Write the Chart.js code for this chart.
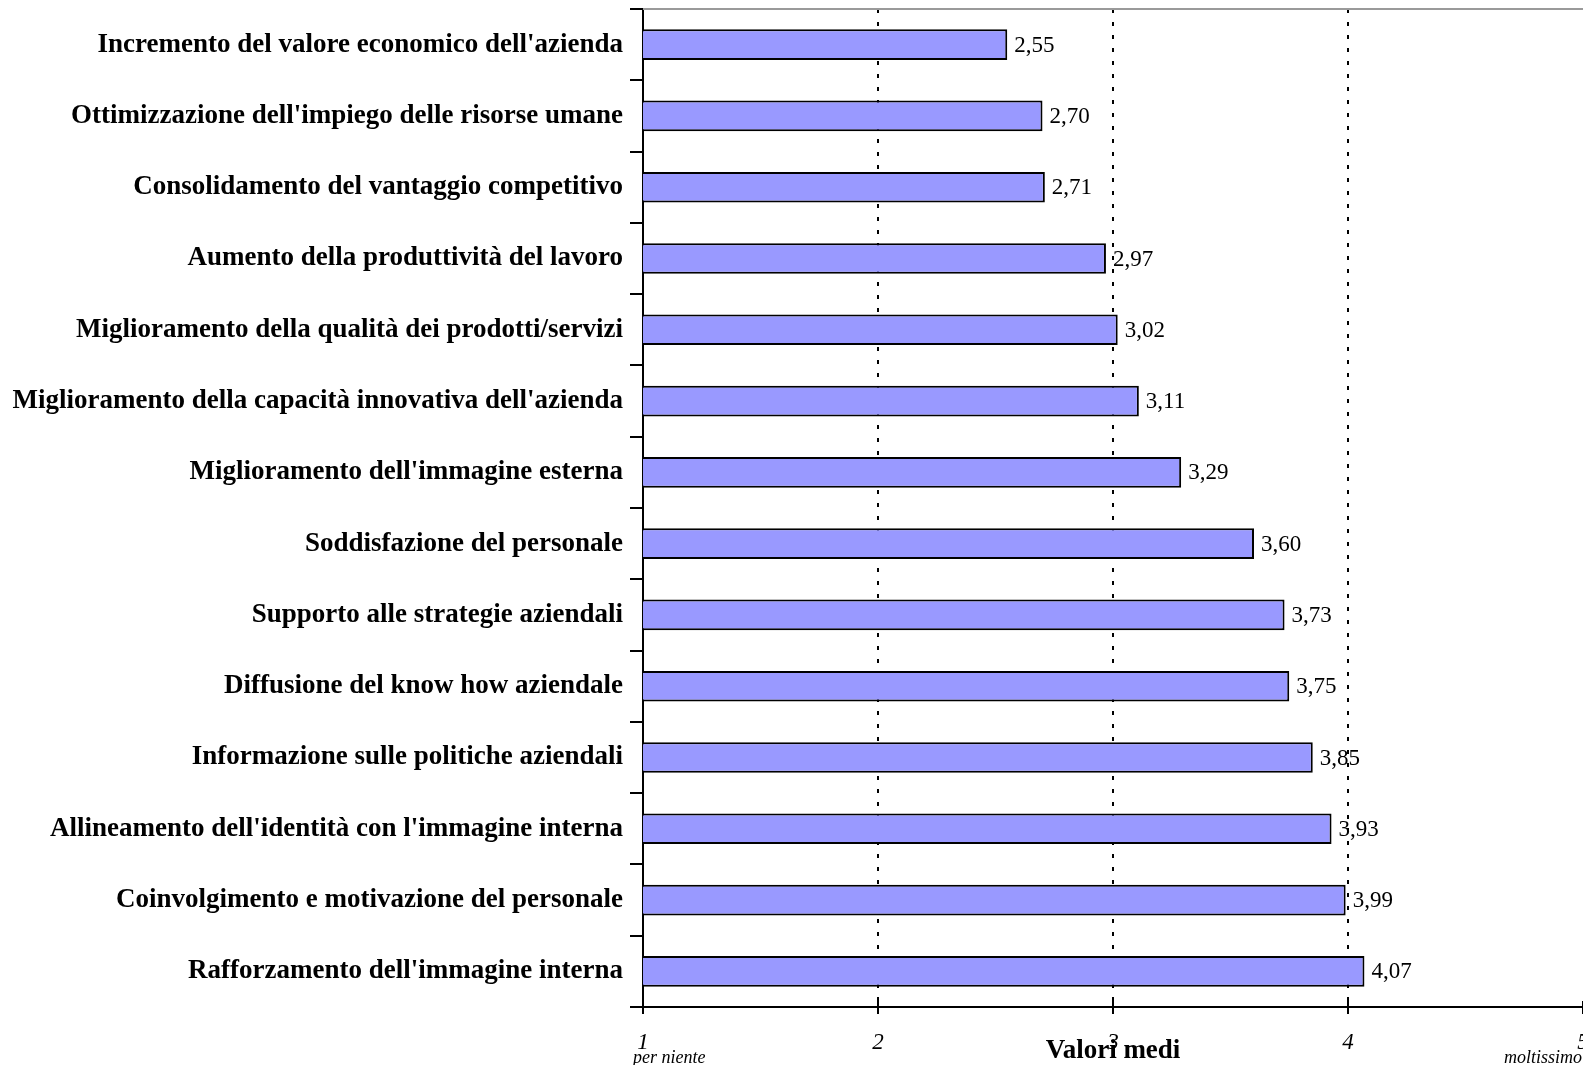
<!DOCTYPE html>
<html>
<head>
<meta charset="utf-8">
<script src="https://cdn.jsdelivr.net/npm/chart.js@4/dist/chart.umd.min.js"></script>
<style>
  html, body { margin: 0; padding: 0; background: #ffffff; }
  canvas { display: block; }
</style>
</head>
<body>
<canvas id="c" width="1583" height="1065"></canvas>
<script>
// Benefici attesi (valori medi, scala 1-5)
const categories = [
  "Incremento del valore economico dell'azienda",
  "Ottimizzazione dell'impiego delle risorse umane",
  "Consolidamento del vantaggio competitivo",
  "Aumento della produttività del lavoro",
  "Miglioramento della qualità dei prodotti/servizi",
  "Miglioramento della capacità innovativa dell'azienda",
  "Miglioramento dell'immagine esterna",
  "Soddisfazione del personale",
  "Supporto alle strategie aziendali",
  "Diffusione del know how aziendale",
  "Informazione sulle politiche aziendali",
  "Allineamento dell'identità con l'immagine interna",
  "Coinvolgimento e motivazione del personale",
  "Rafforzamento dell'immagine interna"
];
const values = [2.55, 2.70, 2.71, 2.97, 3.02, 3.11, 3.29, 3.60, 3.73, 3.75, 3.85, 3.93, 3.99, 4.07];
const tickValues = [1, 2, 3, 4, 5];
const tickLabels = ["1", "2", "3", "4", "5"];
const scaleNotes = { 1: "per niente", 5: "moltissimo" };
const axisTitle = "Valori medi";

const SERIF = "'Liberation Serif', 'Times New Roman', serif";

const fmt = v => v.toFixed(2).replace('.', ',');

const decorations = {
  id: 'decorations',
  afterDraw(chart) {
    const { ctx, chartArea, scales } = chart;
    const x = scales.x;
    ctx.save();

    // top frame line
    ctx.strokeStyle = '#9a9a9a';
    ctx.lineWidth = 2;
    ctx.beginPath();
    ctx.moveTo(chartArea.left, chartArea.top);
    ctx.lineTo(chartArea.right + 2, chartArea.top);
    ctx.stroke();

    // value axis with crossing tick marks
    ctx.strokeStyle = '#000000';
    ctx.lineWidth = 2;
    ctx.beginPath();
    ctx.moveTo(chartArea.left - 1, chartArea.bottom);
    ctx.lineTo(chartArea.right + 2, chartArea.bottom);
    tickValues.forEach(v => {
      const px = x.getPixelForValue(v);
      ctx.moveTo(px, chartArea.bottom - 6);
      ctx.lineTo(px, chartArea.bottom + 7);
    });
    ctx.stroke();

    // value labels next to each bar
    ctx.fillStyle = '#000000';
    ctx.font = "23px " + SERIF;
    ctx.textAlign = 'left';
    ctx.textBaseline = 'middle';
    const meta = chart.getDatasetMeta(0);
    meta.data.forEach((bar, i) => {
      ctx.fillText(fmt(values[i]), bar.x + 7, bar.y + 1);
    });

    // notes under the extreme ticks
    ctx.font = "italic 18px " + SERIF;
    ctx.textBaseline = 'middle';
    ctx.textAlign = 'left';
    ctx.fillText(scaleNotes[1], x.getPixelForValue(1) - 10, 1058);
    ctx.fillText(scaleNotes[5], x.getPixelForValue(5) - 79, 1058);

    // axis title
    ctx.font = "bold 27px " + SERIF;
    ctx.textAlign = 'center';
    ctx.fillText(axisTitle, (chartArea.left + chartArea.right) / 2, 1051);

    ctx.restore();
  }
};

new Chart(document.getElementById('c'), {
  type: 'bar',
  data: {
    labels: categories,
    datasets: [{
      data: values,
      backgroundColor: '#9999ff',
      borderColor: '#000000',
      borderWidth: 2,
      borderSkipped: false,
      categoryPercentage: 1.0,
      barPercentage: 0.43
    }]
  },
  options: {
    indexAxis: 'y',
    responsive: false,
    animation: false,
    devicePixelRatio: 1,
    layout: { padding: { top: 9, right: 0, bottom: 0, left: 0 } },
    plugins: {
      legend: { display: false },
      tooltip: { enabled: false },
      title: { display: false }
    },
    scales: {
      x: {
        type: 'linear',
        position: 'bottom',
        min: 1,
        max: 5,
        afterBuildTicks(scale) {
          scale.ticks = tickValues.map(v => ({ value: v }));
        },
        afterFit(scale) {
          scale.height = 58;
          scale.paddingLeft = 0;
          scale.paddingRight = 0;
        },
        ticks: {
          color: '#000000',
          font: { family: SERIF, size: 23, style: 'italic' },
          padding: 22,
          maxRotation: 0,
          autoSkip: false,
          callback: (v) => tickLabels[tickValues.indexOf(v)]
        },
        grid: {
          display: true,
          drawOnChartArea: true,
          drawTicks: false,
          lineWidth: 2,
          color: (c) => (c.tick && c.tick.value > 1 && c.tick.value < 5) ? '#000000' : 'rgba(0,0,0,0)'
        },
        border: { display: false, dash: [4, 9] }
      },
      y: {
        type: 'category',
        position: 'left',
        afterFit(scale) {
          scale.width = 643;
          scale.paddingTop = 0;
          scale.paddingBottom = 0;
        },
        ticks: {
          color: '#000000',
          font: { family: SERIF, size: 27, weight: 'bold' },
          padding: 7,
          autoSkip: false
        },
        grid: {
          display: true,
          offset: true,
          drawOnChartArea: false,
          drawTicks: true,
          tickLength: 13,
          color: '#000000',
          lineWidth: 2
        },
        border: { display: true, color: '#000000', width: 2 }
      }
    }
  },
  plugins: [decorations]
});
</script>
</body>
</html>
